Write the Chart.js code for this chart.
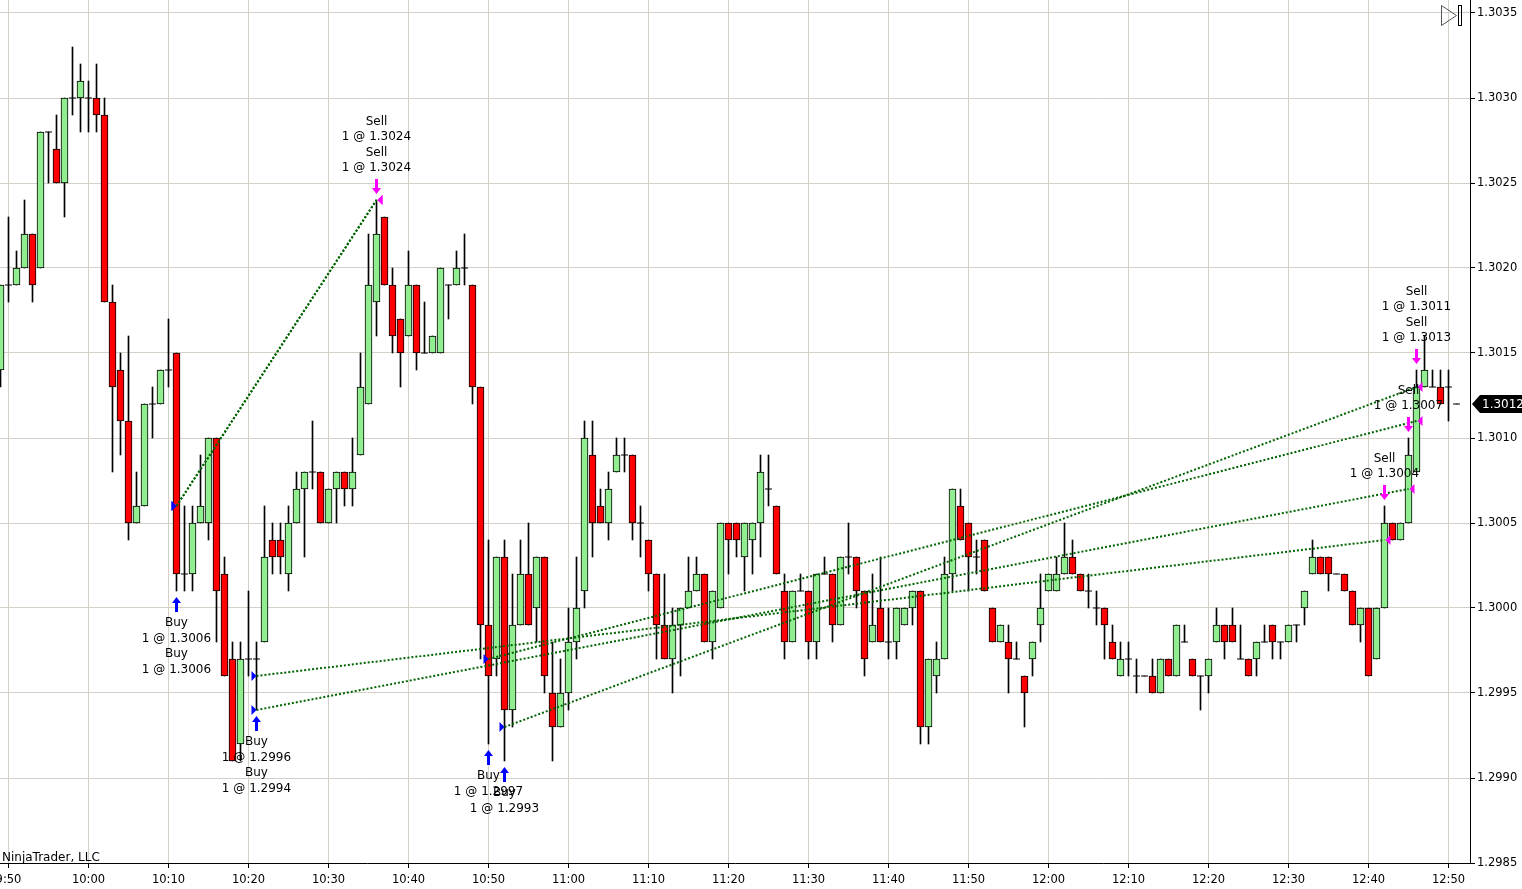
<!DOCTYPE html>
<html>
<head>
<meta charset="utf-8">
<script src="https://cdn.jsdelivr.net/npm/chart.js@4.4.1/dist/chart.umd.min.js"></script>
<style>
  html, body { margin: 0; padding: 0; background: #fff; }
  #wrap { width: 1522px; height: 889px; position: relative; }
</style>
</head>
<body>
<div id="wrap"><canvas id="chart"></canvas></div>
<script>
// one-minute bars, 9:49 .. 12:51
const times = [
  '9:49','9:50','9:51','9:52','9:53','9:54','9:55','9:56','9:57','9:58','9:59',
  '10:00','10:01','10:02','10:03','10:04','10:05','10:06','10:07','10:08','10:09',
  '10:10','10:11','10:12','10:13','10:14','10:15','10:16','10:17','10:18','10:19',
  '10:20','10:21','10:22','10:23','10:24','10:25','10:26','10:27','10:28','10:29',
  '10:30','10:31','10:32','10:33','10:34','10:35','10:36','10:37','10:38','10:39',
  '10:40','10:41','10:42','10:43','10:44','10:45','10:46','10:47','10:48','10:49',
  '10:50','10:51','10:52','10:53','10:54','10:55','10:56','10:57','10:58','10:59',
  '11:00','11:01','11:02','11:03','11:04','11:05','11:06','11:07','11:08','11:09',
  '11:10','11:11','11:12','11:13','11:14','11:15','11:16','11:17','11:18','11:19',
  '11:20','11:21','11:22','11:23','11:24','11:25','11:26','11:27','11:28','11:29',
  '11:30','11:31','11:32','11:33','11:34','11:35','11:36','11:37','11:38','11:39',
  '11:40','11:41','11:42','11:43','11:44','11:45','11:46','11:47','11:48','11:49',
  '11:50','11:51','11:52','11:53','11:54','11:55','11:56','11:57','11:58','11:59',
  '12:00','12:01','12:02','12:03','12:04','12:05','12:06','12:07','12:08','12:09',
  '12:10','12:11','12:12','12:13','12:14','12:15','12:16','12:17','12:18','12:19',
  '12:20','12:21','12:22','12:23','12:24','12:25','12:26','12:27','12:28','12:29',
  '12:30','12:31','12:32','12:33','12:34','12:35','12:36','12:37','12:38','12:39',
  '12:40','12:41','12:42','12:43','12:44','12:45','12:46','12:47','12:48','12:49',
  '12:50','12:51'
];

const opens = [
  1.3014,1.3019,1.3019,1.3020,1.3022,1.3020,1.3028,1.3027,1.3025,1.3030,1.3030,
  1.3030,1.3030,1.3029,1.3018,1.3014,1.3011,1.3005,1.3006,1.3012,1.3012,
  1.3014,1.3015,1.3002,1.3002,1.3005,1.3005,1.3010,1.3002,1.2997,1.2992,
  1.2997,1.2997,1.2998,1.3004,1.3004,1.3002,1.3005,1.3007,1.3008,1.3008,
  1.3005,1.3007,1.3008,1.3007,1.3009,1.3012,1.3018,1.3023,1.3019,1.3017,
  1.3016,1.3019,1.3015,1.3015,1.3015,1.3019,1.3019,1.3020,1.3019,1.3013,
  1.2999,1.2997,1.3003,1.2994,1.2999,1.3002,1.3000,1.3003,1.2995,1.2993,
  1.2995,1.2998,1.3001,1.3009,1.3006,1.3005,1.3008,1.3009,1.3009,1.3005,
  1.3004,1.3002,1.2999,1.2997,1.2999,1.3000,1.3001,1.3002,1.2998,1.3000,
  1.3005,1.3005,1.3003,1.3004,1.3005,1.3007,1.3006,1.3001,1.2998,1.3001,
  1.3001,1.2998,1.3002,1.3002,1.2999,1.3003,1.3003,1.3001,1.2998,1.3000,
  1.2998,1.2998,1.2999,1.3000,1.3001,1.2993,1.2996,1.2997,1.3002,1.3006,
  1.3005,1.3003,1.3004,1.3000,1.2998,1.2998,1.2997,1.2996,1.2997,1.2999,
  1.3001,1.3001,1.3002,1.3003,1.3002,1.3001,1.3000,1.3000,1.2998,1.2996,
  1.2997,1.2996,1.2996,1.2996,1.2995,1.2997,1.2996,1.2998,1.2997,1.2996,
  1.2996,1.2998,1.2999,1.2999,1.2997,1.2997,1.2997,1.2998,1.2999,1.2998,
  1.2998,1.2999,1.3000,1.3002,1.3003,1.3003,1.3002,1.3002,1.3001,1.2999,
  1.3000,1.2997,1.3000,1.3005,1.3004,1.3005,1.3008,1.3013,1.3013,1.3013,
  1.3013,1.3012
];

const highs = [
  1.3019,1.3023,1.3021,1.3024,1.3022,1.3028,1.3028,1.3029,1.3030,1.3033,1.3032,
  1.3031,1.3032,1.3030,1.3019,1.3015,1.3016,1.3008,1.3012,1.3013,1.3014,
  1.3017,1.3015,1.3006,1.3006,1.3009,1.3010,1.3010,1.3003,1.2998,1.2998,
  1.3001,1.2998,1.3006,1.3005,1.3005,1.3006,1.3008,1.3008,1.3011,1.3008,
  1.3007,1.3008,1.3008,1.3010,1.3015,1.3022,1.3024,1.3023,1.3020,1.3017,
  1.3021,1.3019,1.3018,1.3016,1.3020,1.3019,1.3021,1.3022,1.3019,1.3013,
  1.3004,1.3003,1.3004,1.3002,1.3004,1.3005,1.3003,1.3003,1.2998,1.2997,
  1.3000,1.3003,1.3011,1.3011,1.3007,1.3008,1.3010,1.3010,1.3009,1.3006,
  1.3004,1.3002,1.3002,1.3000,1.3000,1.3003,1.3003,1.3002,1.3001,1.3005,
  1.3005,1.3005,1.3005,1.3005,1.3009,1.3009,1.3006,1.3002,1.3001,1.3002,
  1.3001,1.3002,1.3003,1.3002,1.3003,1.3005,1.3003,1.3001,1.3002,1.3003,
  1.3000,1.3000,1.3000,1.3001,1.3001,1.2997,1.2998,1.3003,1.3007,1.3007,
  1.3005,1.3004,1.3004,1.3000,1.2999,1.2999,1.2998,1.2996,1.2998,1.3002,
  1.3002,1.3003,1.3005,1.3004,1.3002,1.3002,1.3001,1.3000,1.2999,1.2998,
  1.2998,1.2997,1.2996,1.2997,1.2997,1.2997,1.2999,1.2999,1.2997,1.2996,
  1.2997,1.3000,1.2999,1.3000,1.2999,1.2997,1.2998,1.2999,1.2999,1.2998,
  1.2999,1.2999,1.3001,1.3004,1.3003,1.3003,1.3002,1.3002,1.3001,1.3000,
  1.3000,1.3000,1.3006,1.3005,1.3005,1.3010,1.3014,1.3016,1.3014,1.3014,
  1.3014,1.3012
];

const lows = [
  1.3013,1.3018,1.3019,1.3020,1.3018,1.3020,1.3025,1.3025,1.3023,1.3029,1.3028,
  1.3028,1.3028,1.3018,1.3008,1.3009,1.3004,1.3005,1.3006,1.3010,1.3012,
  1.3013,1.3001,1.3001,1.3001,1.3005,1.3004,1.2998,1.2996,1.2991,1.2991,
  1.2996,1.2994,1.2998,1.3002,1.3002,1.3001,1.3005,1.3003,1.3007,1.3005,
  1.3005,1.3005,1.3006,1.3006,1.3009,1.3012,1.3016,1.3019,1.3015,1.3013,
  1.3016,1.3014,1.3015,1.3015,1.3015,1.3017,1.3019,1.3019,1.3012,1.2997,
  1.2992,1.2996,1.2991,1.2993,1.2999,1.2999,1.2998,1.2995,1.2991,1.2993,
  1.2994,1.2997,1.3000,1.3003,1.3005,1.3004,1.3008,1.3008,1.3004,1.3003,
  1.3001,1.2997,1.2997,1.2995,1.2996,1.3000,1.3001,1.2998,1.2997,1.3000,
  1.3002,1.3003,1.3001,1.3002,1.3003,1.3006,1.3002,1.2997,1.2998,1.3001,
  1.2997,1.2997,1.3002,1.2998,1.2999,1.3002,1.3000,1.2996,1.2998,1.2998,
  1.2997,1.2997,1.2999,1.2999,1.2992,1.2992,1.2995,1.2997,1.3001,1.3004,
  1.3001,1.3002,1.3001,1.2998,1.2998,1.2995,1.2997,1.2993,1.2996,1.2998,
  1.3001,1.3001,1.3002,1.3002,1.3001,1.3000,1.2999,1.2997,1.2997,1.2996,
  1.2996,1.2995,1.2996,1.2995,1.2995,1.2996,1.2996,1.2998,1.2996,1.2994,
  1.2995,1.2998,1.2997,1.2998,1.2997,1.2996,1.2996,1.2998,1.2997,1.2997,
  1.2998,1.2998,1.2999,1.3002,1.3002,1.3001,1.3002,1.3001,1.2999,1.2998,
  1.2996,1.2997,1.3000,1.3004,1.3004,1.3005,1.3008,1.3013,1.3013,1.3012,
  1.3011,1.3012
];

const closes = [
  1.3019,1.3019,1.3020,1.3022,1.3019,1.3028,1.3028,1.3025,1.3030,1.3030,1.3031,
  1.3030,1.3029,1.3018,1.3013,1.3011,1.3005,1.3006,1.3012,1.3012,1.3014,
  1.3014,1.3002,1.3002,1.3005,1.3006,1.3010,1.3001,1.2996,1.2991,1.2997,
  1.2997,1.2997,1.3003,1.3003,1.3003,1.3005,1.3007,1.3008,1.3008,1.3005,
  1.3007,1.3008,1.3007,1.3008,1.3013,1.3019,1.3022,1.3019,1.3016,1.3015,
  1.3019,1.3015,1.3015,1.3016,1.3020,1.3019,1.3020,1.3020,1.3013,1.2999,
  1.2996,1.3003,1.2994,1.2999,1.3002,1.2999,1.3003,1.2996,1.2993,1.2995,
  1.2998,1.3000,1.3010,1.3005,1.3005,1.3007,1.3009,1.3009,1.3005,1.3005,
  1.3002,1.2999,1.2997,1.2999,1.3000,1.3001,1.3002,1.2998,1.3001,1.3005,
  1.3004,1.3004,1.3005,1.3005,1.3008,1.3007,1.3002,1.2998,1.3001,1.3001,
  1.2998,1.3002,1.3002,1.2999,1.3003,1.3003,1.3001,1.2997,1.2999,1.2998,
  1.2998,1.3000,1.3000,1.3001,1.2993,1.2997,1.2997,1.3002,1.3007,1.3004,
  1.3003,1.3003,1.3001,1.2998,1.2999,1.2997,1.2997,1.2995,1.2998,1.3000,
  1.3002,1.3002,1.3003,1.3002,1.3001,1.3001,1.3000,1.2999,1.2997,1.2997,
  1.2997,1.2996,1.2996,1.2995,1.2997,1.2996,1.2999,1.2998,1.2996,1.2996,
  1.2997,1.2999,1.2998,1.2998,1.2997,1.2996,1.2998,1.2998,1.2998,1.2998,
  1.2999,1.2999,1.3001,1.3003,1.3002,1.3002,1.3002,1.3001,1.2999,1.3000,
  1.2996,1.3000,1.3005,1.3004,1.3005,1.3009,1.3013,1.3014,1.3013,1.3012,
  1.3013,1.3012
];

const timeTicks = ['9:50','10:00','10:10','10:20','10:30','10:40','10:50','11:00','11:10','11:20',
  '11:30','11:40','11:50','12:00','12:10','12:20','12:30','12:40','12:50'];
const priceTicks = [1.2985, 1.2990, 1.2995, 1.3000, 1.3005, 1.3010, 1.3015, 1.3020, 1.3025, 1.3030, 1.3035];

// executions: buys and the sells that closed them
const entryTimes = ['10:11', '10:11', '10:21', '10:21', '10:50', '10:52'];
const entryPrices = [1.3006, 1.3006, 1.2996, 1.2994, 1.2997, 1.2993];
const exitTimes = ['10:36', '10:36', '12:42', '12:45', '12:46', '12:46'];
const exitPrices = [1.3024, 1.3024, 1.3004, 1.3007, 1.3011, 1.3013];

const lastPrice = 1.3012;

const toMin = t => { const p = t.split(':'); return +p[0] * 60 + +p[1]; };

// build candle pieces
const wicks = [], bodies = [], bodyColors = [], dojis = [];
times.forEach((t, i) => {
  const x = toMin(t);
  wicks.push({ x: x, y: [lows[i], highs[i]] });
  if (opens[i] === closes[i]) {
    dojis.push({ x: x, y: opens[i] });
  } else {
    bodies.push({ x: x, y: [opens[i], closes[i]] });
    bodyColors.push(closes[i] > opens[i] ? '#90ee90' : '#ff0000');
  }
});

const tradeLines = entryTimes.map((t, i) => ({
  type: 'line',
  data: [{ x: toMin(t), y: entryPrices[i] }, { x: toMin(exitTimes[i]), y: exitPrices[i] }],
  borderColor: '#006400',
  borderWidth: 2,
  borderDash: [2, 2],
  pointRadius: 0,
  fill: false,
  order: 0
}));

const FONT = '"DejaVu Sans", sans-serif';

function drawArrow(ctx, cx, tipY, dir, color) {
  // dir -1: points up, +1: points down
  ctx.fillStyle = color;
  ctx.beginPath();
  ctx.moveTo(cx, tipY);
  ctx.lineTo(cx + 4.5, tipY - dir * 6);
  ctx.lineTo(cx + 1.5, tipY - dir * 6);
  ctx.lineTo(cx + 1.5, tipY - dir * 15);
  ctx.lineTo(cx - 1.5, tipY - dir * 15);
  ctx.lineTo(cx - 1.5, tipY - dir * 6);
  ctx.lineTo(cx - 4.5, tipY - dir * 6);
  ctx.closePath();
  ctx.fill();
}

function groupBy(tList, pList) {
  const g = {};
  tList.forEach((t, i) => { (g[t] = g[t] || []).push(pList[i]); });
  return g;
}

const overlay = {
  id: 'overlay',
  afterDatasetsDraw(chart) {
    const { ctx, scales: { x, y } } = chart;
    ctx.save();

    // execution triangles
    entryTimes.forEach((t, i) => {
      const px = x.getPixelForValue(toMin(t)), py = y.getPixelForValue(entryPrices[i]);
      ctx.fillStyle = '#0000ff';
      ctx.beginPath();
      ctx.moveTo(px - 5, py - 5); ctx.lineTo(px, py); ctx.lineTo(px - 5, py + 5);
      ctx.closePath(); ctx.fill();
    });
    exitTimes.forEach((t, i) => {
      const px = x.getPixelForValue(toMin(t)), py = y.getPixelForValue(exitPrices[i]);
      ctx.fillStyle = '#ff00ff';
      ctx.beginPath();
      ctx.moveTo(px + 6, py - 5); ctx.lineTo(px + 1, py); ctx.lineTo(px + 6, py + 5);
      ctx.closePath(); ctx.fill();
    });

    ctx.font = '12px ' + FONT;
    ctx.textAlign = 'center';
    ctx.textBaseline = 'middle';

    // buy arrows + labels under the bar
    const buys = groupBy(entryTimes, entryPrices);
    Object.keys(buys).forEach(t => {
      const idx = times.indexOf(t);
      const px = x.getPixelForValue(toMin(t));
      const low = y.getPixelForValue(lows[idx]);
      drawArrow(ctx, px, low + 6, -1, '#0000ff');
      const lines = [];
      buys[t].forEach(p => { lines.push('Buy', '1 @ ' + p.toFixed(4)); });
      ctx.fillStyle = '#000';
      lines.forEach((s, k) => ctx.fillText(s, px, low + 32 + k * 15.5));
    });

    // sell arrows + labels above the bar
    const sells = groupBy(exitTimes, exitPrices);
    Object.keys(sells).forEach(t => {
      const idx = times.indexOf(t);
      const px = x.getPixelForValue(toMin(t));
      const high = y.getPixelForValue(highs[idx]);
      drawArrow(ctx, px, high - 6, 1, '#ff00ff');
      const lines = [];
      sells[t].forEach(p => { lines.push('Sell', '1 @ ' + p.toFixed(4)); });
      ctx.fillStyle = '#000';
      const n = lines.length;
      lines.forEach((s, k) => ctx.fillText(s, px, high - 32 - (n - 1 - k) * 15.5));
    });

    // last price marker on the axis
    const ly = Math.round(y.getPixelForValue(lastPrice));
    const ax = chart.chartArea.right;
    ctx.fillStyle = '#000';
    ctx.beginPath();
    ctx.moveTo(ax + 2, ly);
    ctx.lineTo(ax + 10, ly - 9);
    ctx.lineTo(chart.width, ly - 9);
    ctx.lineTo(chart.width, ly + 9);
    ctx.lineTo(ax + 10, ly + 9);
    ctx.closePath();
    ctx.fill();
    ctx.fillStyle = '#fff';
    ctx.textAlign = 'left';
    ctx.font = '12px ' + FONT;
    ctx.fillText(lastPrice.toFixed(4), ax + 12, ly + 0.5);

    // copyright text
    ctx.fillStyle = '#000';
    ctx.textBaseline = 'alphabetic';
    ctx.fillText('NinjaTrader, LLC', 2, 861);

    // scroll-to-end icon, top right
    ctx.strokeStyle = '#555';
    ctx.lineWidth = 1;
    ctx.beginPath();
    ctx.moveTo(1441.5, 5.5); ctx.lineTo(1456.5, 15.5); ctx.lineTo(1441.5, 25.5); ctx.closePath();
    ctx.stroke();
    ctx.strokeStyle = '#000';
    ctx.strokeRect(1458.5, 5.5, 3, 20);

    ctx.restore();
  }
};

new Chart(document.getElementById('chart'), {
  type: 'bar',
  data: {
    datasets: [
      {
        label: 'wicks',
        data: wicks,
        backgroundColor: '#000',
        borderWidth: 0,
        barThickness: 1,
        grouped: false,
        order: 3
      },
      {
        label: 'bodies',
        data: bodies,
        backgroundColor: bodyColors,
        borderColor: '#000',
        borderWidth: 1,
        borderSkipped: false,
        barThickness: 7,
        grouped: false,
        order: 2
      },
      {
        type: 'scatter',
        label: 'doji',
        data: dojis,
        pointStyle: 'line',
        pointRadius: 3.5,
        borderColor: '#000',
        borderWidth: 1,
        order: 1
      },
      ...tradeLines
    ]
  },
  options: {
    responsive: true,
    maintainAspectRatio: false,
    animation: false,
    events: [],
    layout: { padding: 0, autoPadding: false },
    plugins: { legend: { display: false }, tooltip: { enabled: false } },
    scales: {
      x: {
        type: 'linear',
        min: 588.9375,
        max: 772.6875,
        offset: false,
        grid: { color: '#d4d0c8', offset: false, tickColor: '#000', tickLength: 5 },
        border: { display: true, color: '#000' },
        ticks: {
          autoSkip: false,
          maxRotation: 0,
          padding: 5,
          color: '#000',
          font: { family: FONT, size: 11.5 },
          callback: (v) => timeTicks.find(t => toMin(t) === v) || ''
        },
        afterBuildTicks: s => { s.ticks = timeTicks.map(t => ({ value: toMin(t) })); },
        afterFit: s => { s.height = 26; s.paddingLeft = 0; s.paddingRight = 0; }
      },
      y: {
        position: 'right',
        min: 1.2985,
        max: 1.3035 + 13 / 170000,
        grid: { color: '#d4d0c8', tickColor: '#000', tickLength: 5 },
        border: { display: true, color: '#000' },
        ticks: {
          autoSkip: false,
          padding: 2,
          color: '#000',
          font: { family: FONT, size: 11.5 },
          callback: v => v.toFixed(4)
        },
        afterBuildTicks: s => { s.ticks = priceTicks.map(v => ({ value: v })); },
        afterFit: s => { s.width = 52; s.paddingTop = 0; s.paddingBottom = 0; }
      }
    }
  },
  plugins: [overlay]
});
</script>
</body>
</html>
